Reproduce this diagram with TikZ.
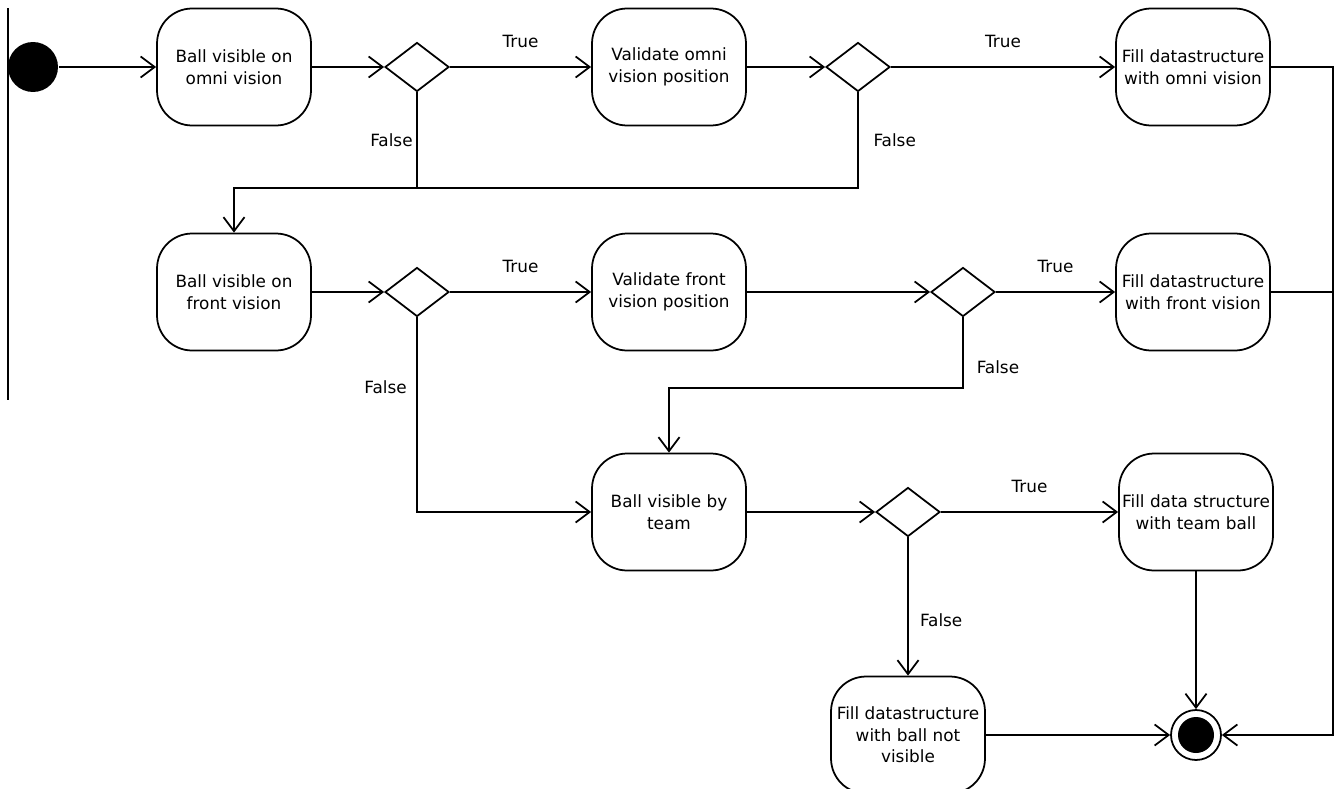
\documentclass[tikz,border=0pt]{standalone}
\usepackage{fontspec}
\setmainfont{DejaVu Sans}
\usetikzlibrary{shapes.geometric,arrows.meta}

\begin{document}
\begin{tikzpicture}[x=0.02cm,y=-0.02cm,line width=1pt,
        font=\fontsize{9.6}{12.2}\selectfont,
        act/.style={draw,rounded corners=0.7cm,minimum width=3.08cm,minimum height=2.34cm,align=center,inner sep=1pt},
        choice/.style={draw,diamond,minimum width=1.28cm,minimum height=0.98cm,inner sep=0pt},
        startnode/.style={circle,fill,minimum size=1cm,inner sep=0pt},
        stopnode/.style={draw,circle,minimum size=1cm,inner sep=0pt,
            path picture={\fill (path picture bounding box.center) circle (0.36cm);}},
        flow/.style={-{Straight Barb[length=8pt,width=12pt]}}]
        \useasboundingbox (0,0) rectangle (1339,788);
        \draw (8,8)--(8,400);
        % activities and choices
        \node[startnode] (start) at (33,67) {};
        \node[act] (omni) at (234,67) {Ball visible on\\omni vision};
        \node[choice] (c1) at (417,67) {};
        \node[act] (valomni) at (669,67) {Validate omni\\vision position};
        \node[choice] (c2) at (858,67) {};
        \node[act] (fillomni) at (1193,67) {Fill datastructure\\with omni vision};
        \node[act] (front) at (234,292) {Ball visible on\\front vision};
        \node[choice] (c3) at (417,292) {};
        \node[act] (valfront) at (669,292) {Validate front\\vision position};
        \node[choice] (c4) at (963,292) {};
        \node[act] (fillfront) at (1193,292) {Fill datastructure\\with front vision};
        \node[act] (team) at (669,512) {Ball visible by\\team};
        \node[choice] (c5) at (908,512) {};
        \node[act] (fillteam) at (1196,512) {Fill data structure\\with team ball};
        \node[act] (fillnone) at (908,735) {Fill datastructure\\with ball not\\visible};
        \node[stopnode] (stop) at (1196,735) {};
        \coordinate (j1) at (858,188);
        \coordinate (j2) at (963,388);
        \coordinate (r1) at (1333,67);
        \coordinate (r2) at (1333,735);
        % omni vision
        \draw[flow](start)--(omni);
        \draw[flow](omni)--(c1);
        \draw[flow](c1)--node[above=7pt]{True}(valomni);
        \draw[flow](valomni)--(c2);
        \draw[flow](c2)--node[above=7pt]{True}(fillomni);
        \draw(c1)--node[left,inner sep=2pt]{False}(c1|-j1);
        \draw[flow](c2)--node[right=5pt]{False}(j1)-|(front);
        % front vision
        \draw[flow](front)--(c3);
        \draw[flow](c3)--node[above=7pt]{True}(valfront);
        \draw[flow](valfront)--(c4);
        \draw[flow](c4)--node[above=7pt]{True}(fillfront);
        \draw[flow](c4)--node[pos=0.7,right=4pt]{False}(j2)-|(team);
        \draw[flow](c3)|-node[pos=0.18,left=2pt]{False}(team);
        % team ball
        \draw[flow](team)--(c5);
        \draw[flow](c5)--node[above=7pt]{True}(fillteam);
        \draw[flow](c5)--node[pos=0.6,right=3pt]{False}(fillnone);
        \draw[flow](fillteam)--(stop);
        \draw[flow](fillnone)--(stop);
        \draw(fillfront)--(fillfront-|r1);
        \draw[flow](fillomni)--(r1)--(r2)--(stop);
    \end{tikzpicture}
\end{document}
